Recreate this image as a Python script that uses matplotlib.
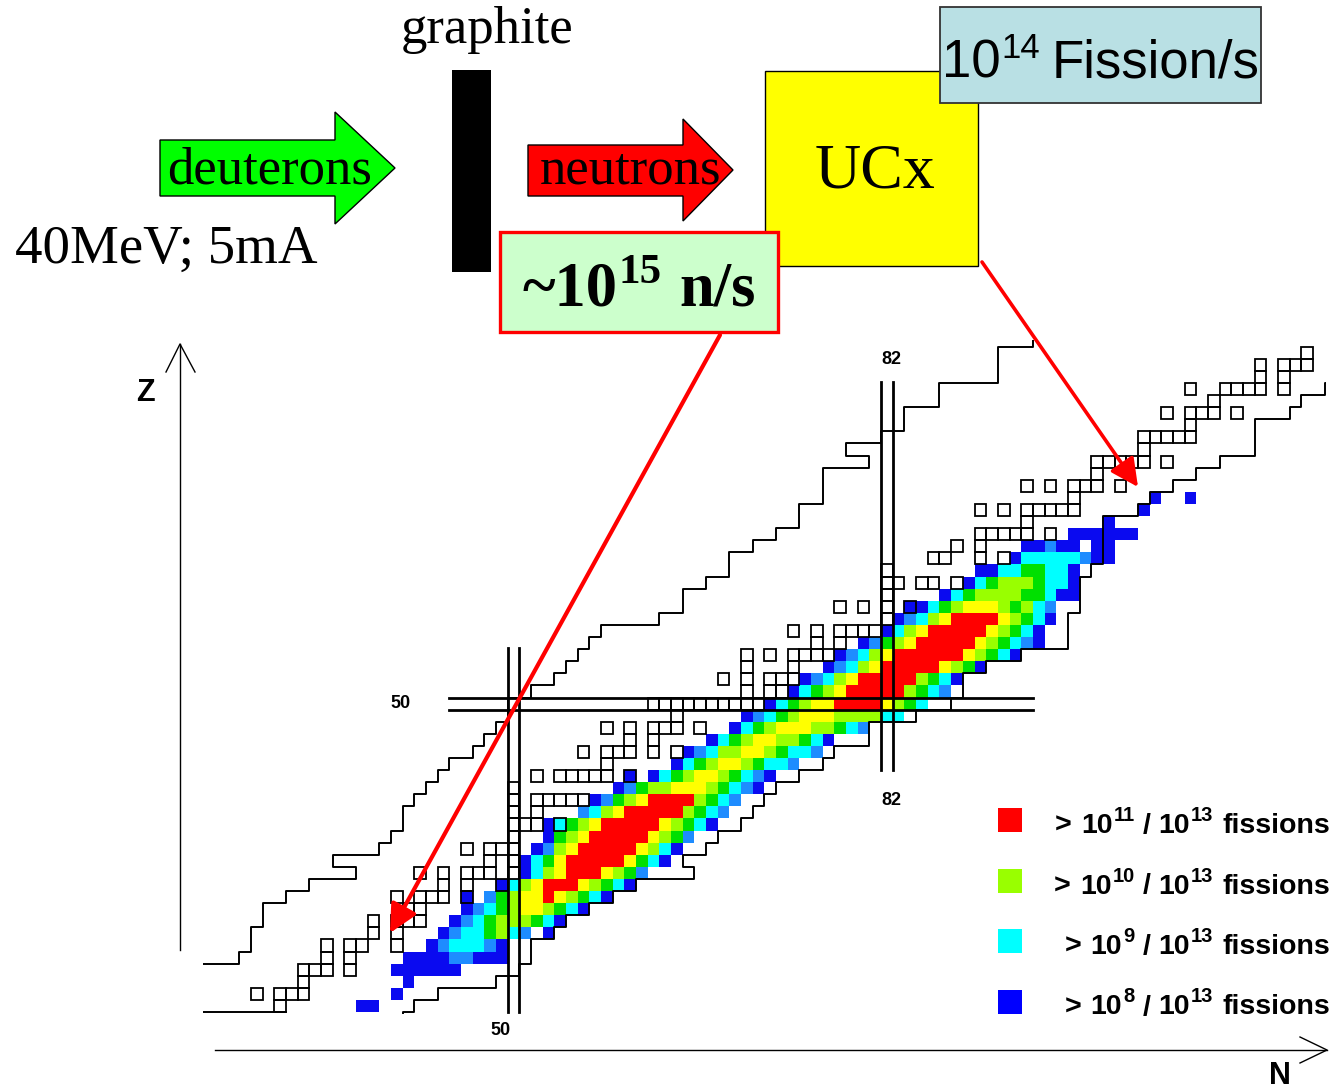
import matplotlib.pyplot as plt
from matplotlib.patches import Rectangle, Polygon, FancyArrowPatch, ArrowStyle

plt.rcParams['font.family'] = ['Liberation Sans', 'DejaVu Sans']

# Fission fragment yields, one string per proton row starting at the first N.
# B > 1e8, D, C > 1e9, G, L > 1e10, Y, R > 1e11 (per 1e13 fissions), '.' = none
yield_rows = [
    (25, 37, "BB"),
    (26, 40, "B"),
    (27, 41, "B"),
    (28, 40, "BBBBBB"),
    (29, 41, "BBBBDDBBB"),
    (30, 43, "BDCCCDB"),
    (31, 44, "BDCCGLCD.B"),
    (32, 45, "BDCGLLLGCB"),
    (33, 46, "BDCGLYYLGCB"),
    (34, 46, "B.DGLYYRYLGCB"),
    (35, 49, "BCLYRRRYLGCB"),
    (36, 51, "BCLYRRRYLGD"),
    (37, 51, "BCGYRRRRRYGCB"),
    (38, 52, "BDLYRRRRRYLCB"),
    (39, 53, "BGLYRRRRRYLGD"),
    (40, 53, "BCGLYRRRRRYLGCB"),
    (41, 56, "DCLYRRRRRLGCD"),
    (42, 57, "BDGLYRRRRLGCD"),
    (43, 59, "BDGLLYYYLGCDB"),
    (44, 60, "B.BCGLYYLGCDB"),
    (45, 64, "BCGLYYLGCCD"),
    (46, 65, "BDCLLYYLGCCD"),
    (47, 67, "BCGLYYLLGCB"),
    (48, 69, "BCGLYYYLLGCD"),
    (49, 70, "BDCGLYYYLLLLCC"),
    (50, 72, "BCGLYYRRRRYLGC"),
    (51, 74, "BCGLYRRRRRLGCD"),
    (52, 75, "BDCLYRRRRRLGCB"),
    (53, 77, "BDCLYRRRRRYLGB"),
    (54, 78, "BDCLYRRRRRRYLGCB"),
    (55, 80, "BDGLYRRRRRYLGCDB"),
    (56, 82, "BCLYRRRRRYLGCB"),
    (57, 83, "BDCLYRRRRYLGCB"),
    (58, 84, "BBCGLYYYLGLCD"),
    (59, 87, "BCGLLLLGGCBB"),
    (60, 89, "BCGLLLGCCB"),
    (61, 90, "BBCCGGCCB"),
    (62, 93, "BCCCCCDBB"),
    (63, 94, "BBDBB.BB"),
    (64, 98, "BBBBBB"),
    (65, 101, "B"),
    (66, 104, "B"),
    (67, 105, "B"),
    (67, 108, "B"),
]

level_colors = {'B': '#0a0af0', 'D': '#1e8cff', 'C': '#00ffff', 'G': '#00e000',
                'L': '#99ff00', 'Y': '#ffff00', 'R': '#ff0000'}

# stable nuclei (open squares), N values per Z
stable_nuclei = {
    25: [30], 26: [28, 30, 31, 32], 27: [32], 28: [32, 33, 34, 36],
    29: [34, 36], 30: [34, 36, 37, 40], 31: [38, 40], 32: [38, 40, 41, 42],
    33: [41, 42], 34: [40, 42, 43, 44, 46], 35: [44, 46, 49],
    36: [42, 44, 46, 47, 48, 50], 37: [48, 50], 38: [46, 48, 49, 50],
    39: [50], 40: [50, 51, 52, 54], 41: [50, 52], 42: [50, 52, 53, 54, 55, 56],
    43: [50], 44: [52, 54, 55, 56, 57, 58, 60], 45: [58],
    46: [56, 58, 59, 60, 62, 64], 47: [60, 62], 48: [58, 60, 62, 63, 64, 66],
    49: [64], 50: [62, 63, 64, 65, 66, 67, 68, 69, 70, 71], 51: [70, 72, 73],
    52: [68, 70, 72, 73, 74], 53: [70, 74], 54: [70, 72, 74, 75, 76, 77],
    55: [76, 78], 56: [74, 76, 78, 79, 80, 81], 57: [82], 58: [78, 80, 82, 84],
    59: [82], 60: [82, 83, 85, 86, 88], 61: [82], 62: [86, 87, 90, 92],
    63: [88, 90], 64: [90, 91, 92, 93, 94, 96], 65: [94],
    66: [90, 92, 94, 95, 96, 97, 98], 67: [98], 68: [94, 96, 98, 99, 100, 102],
    69: [100], 70: [100, 101, 102, 103, 104, 106], 71: [104],
    72: [104, 105, 106, 107, 108], 73: [108], 74: [106, 108, 109, 110, 112],
    75: [110], 76: [108, 111, 112, 113, 114, 116], 77: [114, 116],
    78: [114, 116, 117, 118], 79: [118],
}

# limits of known nuclei: lightest N (proton side) and heaviest N per Z
p_side_z = list(range(28, 81))
p_side_n = [23, 27, 28, 28, 29, 29, 31, 33, 37, 35, 39, 40, 41, 41, 42, 43, 44,
            45, 47, 48, 49, 50, 50, 52, 54, 55, 56, 57, 58, 63, 65, 65, 67, 69,
            69, 71, 73, 75, 75, 77, 77, 77, 81, 79, 82, 84, 84, 87, 87, 92, 92,
            92, 95]
n_side_z = list(range(24, 78))
n_side_n = [40, 41, 43, 48, 50, 51, 51, 53, 54, 56, 58, 60, 65, 64, 66, 67, 69,
            70, 71, 72, 74, 76, 77, 80, 80, 84, 87, 88, 88, 90, 93, 97, 97, 97,
            98, 98, 98, 99, 100, 100, 100, 100, 103, 104, 106, 108, 110, 113,
            113, 113, 116, 117, 119, 121]
floor_n = [23.0, 30.5]          # bottom border segment along Z = 24.5

# magic numbers: (value, from, to)
magic_n_lines = [(50, 24.5, 54.6), (82, 44.5, 76.6)]
magic_z_lines = [(50, 44.5, 94.5)]

legend_exp = ['11', '10', '9', '8']
legend_colors = ['#ff0000', '#99ff00', '#00ffff', '#0000ff']

fig = plt.figure(figsize=(13.33, 10.9), dpi=100)

# nuclide chart in (N, Z) coordinates
ax = fig.add_axes([203 / 1333, 76 / 1090, 1123 / 1333, 674 / 1090])
ax.set_xlim(23.39, 119.62)
ax.set_ylim(24.34, 80.05)
ax.axis('off')

for z, n0, codes in yield_rows:
    for i, c in enumerate(codes):
        if c == '.':
            continue
        ax.add_patch(Rectangle((n0 + i - 0.5, z - 0.5), 1, 1,
                               facecolor=level_colors[c], edgecolor='none', zorder=1))

for z, ns in stable_nuclei.items():
    for n in ns:
        ax.add_patch(Rectangle((n - 0.5, z - 0.5), 1, 1, fill=False,
                               edgecolor='black', lw=1.3, zorder=3))


def staircase(zs, ns, side):
    xs, ys = [], []
    for z, n in zip(zs, ns):
        xs += [n + side, n + side]
        ys += [z - 0.5, z + 0.5]
    return xs, ys


for zs, ns, side in [(p_side_z, p_side_n, -0.5), (n_side_z, n_side_n, 0.5)]:
    xs, ys = staircase(zs, ns, side)
    ax.plot(xs, ys, color='black', lw=1.4, zorder=4)
ax.plot(floor_n, [24.5, 24.5], color='black', lw=1.4, zorder=4)

for n, z0, z1 in magic_n_lines:
    for dx in (-0.5, 0.5):
        ax.plot([n + dx, n + dx], [z0, z1], color='black', lw=2.0, zorder=5)
for z, n0, n1 in magic_z_lines:
    for dy in (-0.5, 0.5):
        ax.plot([n0, n1], [z + dy, z + dy], color='black', lw=2.0, zorder=5)

lab = dict(fontsize=13, fontweight='bold', ha='center', va='center')
ax.text(40.3, 50, '50', **lab)
ax.text(48.9, 23.0, '50', **lab)
ax.text(82.4, 78.4, '82', **lab)
ax.text(82.4, 42.0, '82', **lab)

# overlay in pixel coordinates for the sketch, axes and legend
ov = fig.add_axes([0, 0, 1, 1], zorder=3)
ov.set_xlim(0, 1333)
ov.set_ylim(1090, 0)
ov.axis('off')
renderer = fig.canvas.get_renderer()


def put_runs(x, y, runs, ha='left', **style):
    placed, total = [], 0.0
    for text, size, rise, gap in runs:
        t = ov.text(0, 0, text, fontsize=size, va='baseline', ha='left', **style)
        w = t.get_window_extent(renderer).width
        placed.append((t, rise, gap, w))
        total += gap + w
    x0 = x - total if ha == 'right' else x
    for t, rise, gap, w in placed:
        x0 += gap
        t.set_position((x0, y - rise))
        x0 += w


serif = 'Liberation Serif'

# beam line sketch
ov.add_patch(Polygon([(160, 140), (335, 140), (335, 112), (395, 168), (335, 224),
                      (335, 196), (160, 196)], closed=True, facecolor='#00ff00',
                     edgecolor='black', lw=1.0))
ov.add_patch(Polygon([(528, 145), (683, 145), (683, 119), (733, 170), (683, 221),
                      (683, 196), (528, 196)], closed=True, facecolor='#ff0000',
                     edgecolor='black', lw=1.0))
ov.add_patch(Rectangle((452, 70), 39, 202, facecolor='black', edgecolor='none'))
ov.add_patch(Rectangle((765, 71), 213, 195, facecolor='#ffff00', edgecolor='black', lw=1.0))
ov.add_patch(Rectangle((940, 7), 321, 96, facecolor='#b9e0e4', edgecolor='#333333', lw=1.3))
ov.add_patch(Rectangle((500, 232), 278, 100, facecolor='#ccffcc', edgecolor='#ff0000', lw=2.4))

ov.text(487, 43, 'graphite', family=serif, fontsize=38, ha='center', va='baseline')
ov.text(167, 183, 'deuterons', family=serif, fontsize=38, va='baseline')
ov.text(540, 183, 'neutrons', family=serif, fontsize=38, va='baseline')
ov.text(15, 263, '40MeV; 5mA', family=serif, fontsize=39.5, va='baseline')
ov.text(815, 188, 'UCx', family=serif, fontsize=46, va='baseline')
put_runs(523, 305, [('~10', 45, 0, 0), ('15', 31, 22, 0), ('n/s', 45, 0, 18)],
         family=serif, fontweight='bold')
put_runs(942, 77, [('10', 38, 0, 0), ('14', 25, 19, 1), ('Fission/s', 38, 0, 11)],
         family='Liberation Sans')

# red pointers from the sketch into the chart
for start, tip, width in [((720, 335), (390, 933), 3.0), ((982, 262), (1138, 487), 2.6)]:
    ov.add_patch(FancyArrowPatch(start, tip, arrowstyle=ArrowStyle('-|>', head_length=1.0, head_width=0.5),
                                 mutation_scale=17, color='#ff0000', lw=width,
                                 shrinkA=0, shrinkB=0, zorder=6))

# Z and N axes
ov.plot([180, 180], [950, 344], color='black', lw=1.0)
ov.plot([166, 180, 195], [372, 344, 372], color='black', lw=1.0)
ov.plot([215, 1327], [1050, 1050], color='black', lw=1.0)
ov.plot([1300, 1327, 1300], [1037, 1050, 1063], color='black', lw=1.0)
ov.text(145, 393, 'Z', fontsize=22, fontweight='bold', ha='center', va='center')
ov.text(1280, 1076, 'N', fontsize=22, fontweight='bold', ha='center', va='center')

# legend
for i, (e, col) in enumerate(zip(legend_exp, legend_colors)):
    y = 833 + i * 60.5
    ov.add_patch(Rectangle((998, y - 25), 24, 24, facecolor=col, edgecolor='none'))
    put_runs(1330, y, [('>', 20.5, 0, 0), ('10', 20.5, 0, 9), (e, 14.5, 12, 1), ('/', 20.5, 0, 8),
                       ('10', 20.5, 0, 8), ('13', 14.5, 12, 1), ('fissions', 20.5, 0, 9)],
             ha='right', fontweight='bold')

fig.savefig('out.png', dpi=100)
